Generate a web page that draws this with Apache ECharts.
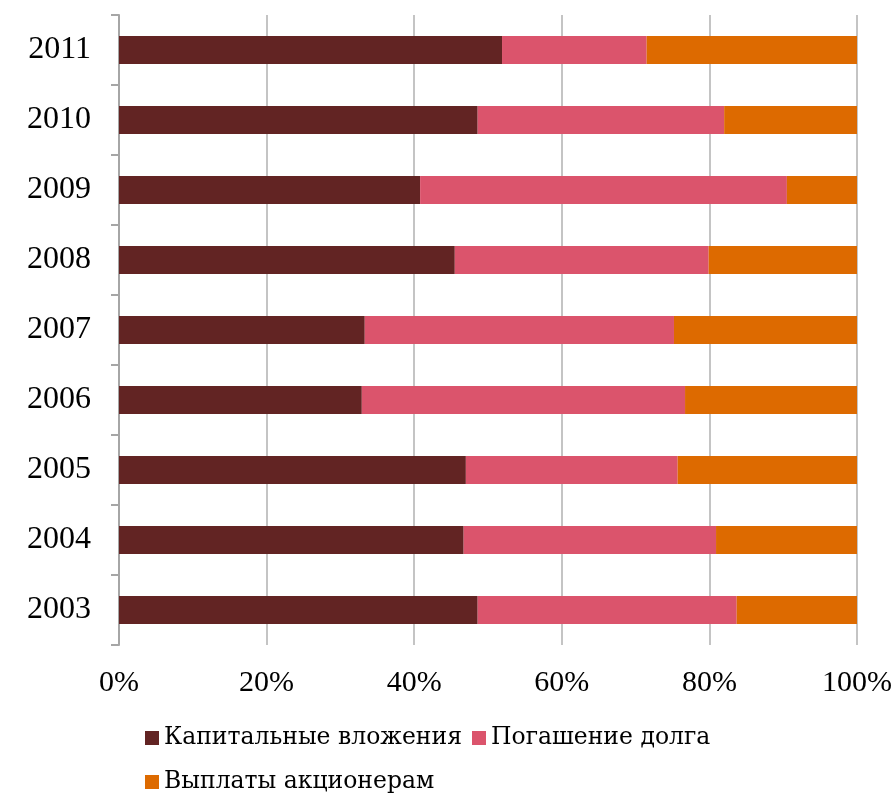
<!DOCTYPE html>
<html><head><meta charset="utf-8">
<script src="https://cdn.jsdelivr.net/npm/echarts@6/dist/echarts.min.js"></script>
<style>html,body{margin:0;padding:0;background:#fff}#c{width:893px;height:794px}</style>
</head><body><div id="c"></div>
<script>
var years = ['2003','2004','2005','2006','2007','2008','2009','2010','2011'];
var capex = [48.6, 46.7, 47.0, 32.9, 33.3, 45.5, 40.8, 48.6, 51.9];
var debt = [35.1, 34.2, 28.7, 43.8, 41.9, 34.4, 49.7, 33.4, 19.6];
var payout = [16.3, 19.1, 24.3, 23.3, 24.8, 20.1, 9.5, 18.0, 28.5];
var xTicks = ['0%','20%','40%','60%','80%','100%'];
var names = ['Капитальные вложения','Погашение долга','Выплаты акционерам'];
var colors = ['#622423','#DB546C','#DD6A00'];
var font = 'Liberation Serif';
var lfont = 'DejaVu Serif';
var chart = echarts.init(document.getElementById('c'));
function ser(i, d){return {name:names[i], type:'bar', stack:'s', data:d, barCategoryGap:'60%', itemStyle:{color:colors[i]}};}
chart.setOption({
  animation:false,
  color:colors,
  grid:{left:119, right:36, top:15, bottom:149, outerBoundsMode:'none', containLabel:false},
  xAxis:{type:'value', min:0, max:100, interval:20,
    axisLine:{show:false}, axisTick:{show:false},
    splitLine:{lineStyle:{color:'#c4c4c4', width:2}},
    axisLabel:{margin:23, fontFamily:font, fontSize:30, color:'#000',
      formatter:function(v){return xTicks[Math.round(v/20)];}}},
  yAxis:{type:'category', data:years,
    axisLine:{show:true, lineStyle:{color:'#a6a6a6', width:2}},
    axisTick:{show:true, alignWithLabel:false, inside:false, length:8, lineStyle:{color:'#a6a6a6', width:2}},
    axisLabel:{margin:28, fontFamily:font, fontSize:32, color:'#000'}},
  legend:[
    {data:[names[0],names[1]], left:145, top:726, padding:0, icon:'rect', itemWidth:14, itemHeight:14, itemGap:10,
     textStyle:{fontFamily:lfont, fontSize:23.5, color:'#000'}},
    {data:[names[2]], left:145, top:770, padding:0, icon:'rect', itemWidth:14, itemHeight:14,
     textStyle:{fontFamily:lfont, fontSize:23.5, color:'#000'}}
  ],
  series:[ser(0,capex), ser(1,debt), ser(2,payout)]
});
</script></body></html>
